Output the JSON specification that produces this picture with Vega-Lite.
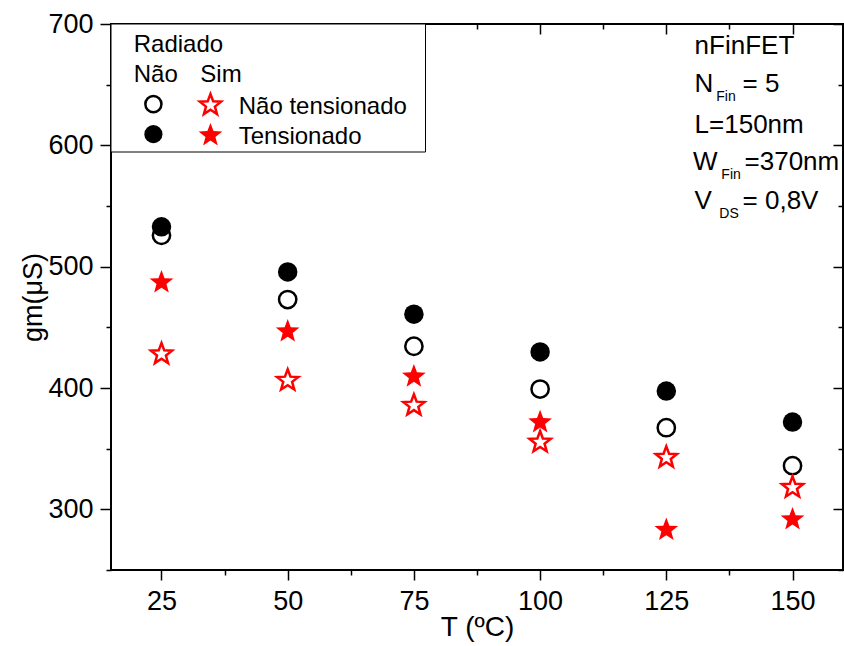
{
  "$schema": "https://vega.github.io/schema/vega-lite/v6.json",
  "width": 732,
  "height": 546,
  "autosize": "none",
  "padding": {"left": 111, "top": 24, "right": 1, "bottom": 76},
  "background": "white",
  "datasets": {
    "pts": [
      {"T": 25, "gm": 525.9, "radiado": "Não", "condicao": "Não tensionado"},
      {"T": 50, "gm": 472.9, "radiado": "Não", "condicao": "Não tensionado"},
      {"T": 75, "gm": 434.4, "radiado": "Não", "condicao": "Não tensionado"},
      {"T": 100, "gm": 399.1, "radiado": "Não", "condicao": "Não tensionado"},
      {"T": 125, "gm": 367.3, "radiado": "Não", "condicao": "Não tensionado"},
      {"T": 150, "gm": 336.0, "radiado": "Não", "condicao": "Não tensionado"},
      {"T": 25, "gm": 532.8, "radiado": "Não", "condicao": "Tensionado"},
      {"T": 50, "gm": 495.7, "radiado": "Não", "condicao": "Tensionado"},
      {"T": 75, "gm": 460.8, "radiado": "Não", "condicao": "Tensionado"},
      {"T": 100, "gm": 429.7, "radiado": "Não", "condicao": "Tensionado"},
      {"T": 125, "gm": 397.5, "radiado": "Não", "condicao": "Tensionado"},
      {"T": 150, "gm": 371.9, "radiado": "Não", "condicao": "Tensionado"},
      {"T": 25, "gm": 428.8, "radiado": "Sim", "condicao": "Não tensionado"},
      {"T": 50, "gm": 407.1, "radiado": "Sim", "condicao": "Não tensionado"},
      {"T": 75, "gm": 386.5, "radiado": "Sim", "condicao": "Não tensionado"},
      {"T": 100, "gm": 356.2, "radiado": "Sim", "condicao": "Não tensionado"},
      {"T": 125, "gm": 343.6, "radiado": "Sim", "condicao": "Não tensionado"},
      {"T": 150, "gm": 318.9, "radiado": "Sim", "condicao": "Não tensionado"},
      {"T": 25, "gm": 488.0, "radiado": "Sim", "condicao": "Tensionado"},
      {"T": 50, "gm": 447.6, "radiado": "Sim", "condicao": "Tensionado"},
      {"T": 75, "gm": 410.4, "radiado": "Sim", "condicao": "Tensionado"},
      {"T": 100, "gm": 372.7, "radiado": "Sim", "condicao": "Tensionado"},
      {"T": 125, "gm": 284.0, "radiado": "Sim", "condicao": "Tensionado"},
      {"T": 150, "gm": 292.7, "radiado": "Sim", "condicao": "Tensionado"}
    ],
    "legendbox": [{"x1": 15, "x2": 77.3, "y1": 594.5, "y2": 700}],
    "legpts": [
      {"T": 23.4, "gm": 634.0, "radiado": "Não", "condicao": "Não tensionado"},
      {"T": 23.4, "gm": 609.2, "radiado": "Não", "condicao": "Tensionado"},
      {"T": 34.7, "gm": 634.0, "radiado": "Sim", "condicao": "Não tensionado"},
      {"T": 34.7, "gm": 609.2, "radiado": "Sim", "condicao": "Tensionado"}
    ],
    "legtext": [
      {"x": 19.5, "y": 676.9, "label": "Radiado"},
      {"x": 19.5, "y": 652.2, "label": "Não"},
      {"x": 32.7, "y": 652.2, "label": "Sim"},
      {"x": 40.3, "y": 625.8, "label": "Não tensionado"},
      {"x": 40.3, "y": 601.0, "label": "Tensionado"}
    ],
    "annot": [
      {"x": 130.6, "y": 675.3, "label": "nFinFET"},
      {"x": 130.6, "y": 643.9, "label": "N"},
      {"x": 140.1, "y": 643.9, "label": "= 5"},
      {"x": 130.6, "y": 610.1, "label": "L=150nm"},
      {"x": 130.3, "y": 579.6, "label": "W"},
      {"x": 140.5, "y": 579.6, "label": "=370nm"},
      {"x": 130.6, "y": 547.4, "label": "V"},
      {"x": 140.1, "y": 547.4, "label": "= 0,8V"}
    ],
    "subs": [
      {"x": 134.9, "y": 636.5, "label": "Fin"},
      {"x": 135.9, "y": 572.1, "label": "Fin"},
      {"x": 135.5, "y": 540.0, "label": "DS"}
    ]
  },
  "layer": [
    {
      "data": {"name": "pts"},
      "transform": [{"filter": "datum.condicao === 'Não tensionado'"}],
      "mark": {"type": "point", "filled": true, "fill": "white", "strokeWidth": 2.5, "opacity": 1},
      "encoding": {
        "x": {"field": "T", "type": "quantitative", "scale": {"domain": [15, 160], "nice": false, "zero": false},
          "axis": {"orient": "bottom", "values": [25, 50, 75, 100, 125, 150], "tickSize": 10, "labelFontSize": 27, "labelPadding": 8, "labelFlush": false, "labelOverlap": false,
            "title": "T (ºC)", "titleFontSize": 28, "titleFontWeight": "normal", "titleX": 366, "titleY": 65, "titleBaseline": "alphabetic", "titleAlign": "center", "zindex": 0}},
        "y": {"field": "gm", "type": "quantitative", "scale": {"domain": [250, 700], "nice": false, "zero": false},
          "axis": {"orient": "left", "values": [300, 400, 500, 600, 700], "tickSize": 11, "labelFontSize": 27, "labelPadding": 7, "labelFlush": false, "labelOverlap": false,
            "title": "gm(μS)", "titleFontSize": 27, "titleFontWeight": "normal", "titleAngle": 270, "titleX": -70, "titleY": 273, "titleBaseline": "alphabetic", "titleAlign": "center", "zindex": 0}},
        "shape": {"condition": {"test": "datum.radiado === 'Sim'", "value": "M0,-0.905L0.247,-0.245L0.951,-0.214L0.399,0.225L0.588,0.904L0,0.515L-0.588,0.904L-0.399,0.225L-0.951,-0.214L-0.247,-0.245Z"}, "value": "circle"},
        "stroke": {"condition": {"test": "datum.radiado === 'Sim'", "value": "#ff0000"}, "value": "black"},
        "size": {"condition": {"test": "datum.radiado === 'Sim'", "value": 497}, "value": 299}
      }
    },
    {
      "data": {"name": "pts"},
      "transform": [{"filter": "datum.condicao === 'Tensionado'"}],
      "mark": {"type": "point", "filled": true, "strokeWidth": 0, "opacity": 1},
      "encoding": {
        "x": {"field": "T", "type": "quantitative", "scale": {"domain": [15, 160], "nice": false, "zero": false},
          "axis": {"orient": "bottom", "values": [37.5, 62.5, 87.5, 112.5, 137.5], "tickSize": 5, "labels": false, "title": null, "zindex": 0}},
        "y": {"field": "gm", "type": "quantitative", "scale": {"domain": [250, 700], "nice": false, "zero": false},
          "axis": {"orient": "left", "values": [250, 350, 450, 550, 650], "tickSize": 5, "labels": false, "title": null, "zindex": 0}},
        "shape": {"condition": {"test": "datum.radiado === 'Sim'", "value": "M0,-0.905L0.247,-0.245L0.951,-0.214L0.399,0.225L0.588,0.904L0,0.515L-0.588,0.904L-0.399,0.225L-0.951,-0.214L-0.247,-0.245Z"}, "value": "circle"},
        "fill": {"condition": {"test": "datum.radiado === 'Sim'", "value": "#ff0000"}, "value": "black"},
        "size": {"condition": {"test": "datum.radiado === 'Sim'", "value": 620}, "value": 380}
      }
    },
    {
      "data": {"name": "legendbox"},
      "mark": {"type": "rect", "fill": "white", "stroke": "black", "strokeWidth": 1},
      "encoding": {
        "x": {"field": "x1", "type": "quantitative", "scale": {"domain": [15, 160], "nice": false, "zero": false}, "axis": null},
        "x2": {"field": "x2"},
        "y": {"field": "y1", "type": "quantitative", "scale": {"domain": [250, 700], "nice": false, "zero": false}, "axis": null},
        "y2": {"field": "y2"}
      }
    },
    {
      "data": {"name": "legpts"},
      "transform": [{"filter": "datum.condicao === 'Não tensionado'"}],
      "mark": {"type": "point", "filled": true, "fill": "white", "strokeWidth": 2.5, "opacity": 1},
      "encoding": {
        "x": {"field": "T", "type": "quantitative", "scale": {"domain": [15, 160], "nice": false, "zero": false},
          "axis": {"orient": "top", "values": [25, 50, 75, 100, 125, 150], "tickSize": -10, "labels": false, "title": null, "zindex": 0}},
        "y": {"field": "gm", "type": "quantitative", "scale": {"domain": [250, 700], "nice": false, "zero": false},
          "axis": {"orient": "right", "values": [300, 400, 500, 600, 700], "tickSize": -10, "labels": false, "title": null, "zindex": 0}},
        "shape": {"condition": {"test": "datum.radiado === 'Sim'", "value": "M0,-0.905L0.247,-0.245L0.951,-0.214L0.399,0.225L0.588,0.904L0,0.515L-0.588,0.904L-0.399,0.225L-0.951,-0.214L-0.247,-0.245Z"}, "value": "circle"},
        "stroke": {"condition": {"test": "datum.radiado === 'Sim'", "value": "#ff0000"}, "value": "black"},
        "size": {"condition": {"test": "datum.radiado === 'Sim'", "value": 497}, "value": 260}
      }
    },
    {
      "data": {"name": "legpts"},
      "transform": [{"filter": "datum.condicao === 'Tensionado'"}],
      "mark": {"type": "point", "filled": true, "strokeWidth": 0, "opacity": 1},
      "encoding": {
        "x": {"field": "T", "type": "quantitative", "scale": {"domain": [15, 160], "nice": false, "zero": false},
          "axis": {"orient": "top", "values": [37.5, 62.5, 87.5, 112.5, 137.5], "tickSize": -5, "labels": false, "title": null, "zindex": 0}},
        "y": {"field": "gm", "type": "quantitative", "scale": {"domain": [250, 700], "nice": false, "zero": false},
          "axis": {"orient": "right", "values": [250, 350, 450, 550, 650], "tickSize": -5, "labels": false, "title": null, "zindex": 0}},
        "shape": {"condition": {"test": "datum.radiado === 'Sim'", "value": "M0,-0.905L0.247,-0.245L0.951,-0.214L0.399,0.225L0.588,0.904L0,0.515L-0.588,0.904L-0.399,0.225L-0.951,-0.214L-0.247,-0.245Z"}, "value": "circle"},
        "fill": {"condition": {"test": "datum.radiado === 'Sim'", "value": "#ff0000"}, "value": "black"},
        "size": {"condition": {"test": "datum.radiado === 'Sim'", "value": 620}, "value": 330}
      }
    },
    {
      "data": {"name": "legtext"},
      "mark": {"type": "text", "align": "left", "baseline": "alphabetic", "fontSize": 24, "font": "Liberation Sans", "color": "black"},
      "encoding": {
        "x": {"field": "x", "type": "quantitative", "scale": {"domain": [15, 160], "nice": false, "zero": false}, "axis": null},
        "y": {"field": "y", "type": "quantitative", "scale": {"domain": [250, 700], "nice": false, "zero": false}, "axis": null},
        "text": {"field": "label"}
      }
    },
    {
      "data": {"name": "annot"},
      "mark": {"type": "text", "align": "left", "baseline": "alphabetic", "fontSize": 26, "font": "Liberation Sans", "color": "black"},
      "encoding": {
        "x": {"field": "x", "type": "quantitative", "scale": {"domain": [15, 160], "nice": false, "zero": false}, "axis": null},
        "y": {"field": "y", "type": "quantitative", "scale": {"domain": [250, 700], "nice": false, "zero": false}, "axis": null},
        "text": {"field": "label"}
      }
    },
    {
      "data": {"name": "subs"},
      "mark": {"type": "text", "align": "left", "baseline": "alphabetic", "fontSize": 14, "font": "Liberation Sans", "color": "black"},
      "encoding": {
        "x": {"field": "x", "type": "quantitative", "scale": {"domain": [15, 160], "nice": false, "zero": false}, "axis": null},
        "y": {"field": "y", "type": "quantitative", "scale": {"domain": [250, 700], "nice": false, "zero": false}, "axis": null},
        "text": {"field": "label"}
      }
    }
  ],
  "resolve": {"axis": {"x": "independent", "y": "independent"}},
  "config": {
    "view": {"stroke": "black", "strokeWidth": 2},
    "axis": {"grid": false, "domain": false, "tickColor": "black", "tickWidth": 1.5, "labelColor": "black", "titleColor": "black", "labelFont": "Liberation Sans", "titleFont": "Liberation Sans"}
  }
}
